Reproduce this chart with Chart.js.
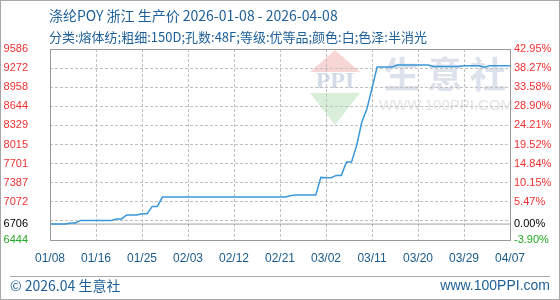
<!DOCTYPE html>
<html lang="zh">
  <head>
    <meta charset="UTF-8" />
    <title>涤纶POY 浙江 生产价</title>
    <script src="https://cdn.jsdelivr.net/npm/chart.js@4"></script>
    <style>
      body { margin: 0; background: #fff; }
      #wrap { position: relative; width: 560px; height: 300px; font-family: "Noto Sans CJK SC", "Liberation Sans", sans-serif; }
      #frame { position: absolute; left: 0; top: 0; width: 560px; height: 300px; box-sizing: border-box; border: 1px solid #a8a8a8; pointer-events: none; }
      .txt { position: absolute; color: #1d5f98; white-space: nowrap; line-height: 1; }
      #title { left: 49px; top: 8px; font-size: 14px; }
      #sub { left: 49px; top: 30px; font-size: 13px; }
      #sep { position: absolute; left: 10px; top: 276px; width: 540px; height: 1px; background: #aaa; }
      #copy { left: 10px; top: 278px; font-size: 14px; }
      #site { right: 10px; top: 278px; font-size: 14px; font-family: "Liberation Sans", sans-serif; }
    </style>
  </head>
  <body>
    <div id="wrap">
      <canvas id="myChart"></canvas>
      <div id="title" class="txt">涤纶POY 浙江 生产价 2026-01-08 - 2026-04-08</div>
      <div id="sub" class="txt">分类:熔体纺;粗细:150D;孔数:48F;等级:优等品;颜色:白;色泽:半消光</div>
      <div id="sep"></div>
      <div id="copy" class="txt">© 2026.04 生意社</div>
      <div id="site" class="txt">www.100PPI.com</div>
      <div id="frame"></div>
    </div>
    <script>
      // daily price, 2026-01-08 .. 2026-04-08 (day index = position)
      let prices = [
        6706, 6706, 6706, 6706, 6725, 6725,
        6766, 6766, 6766, 6766, 6766, 6766, 6766,
        6790, 6790, 6855, 6855, 6855, 6877, 6877, 6997, 6997,
        7151, 7151, 7151, 7151, 7151, 7151, 7151, 7151, 7151, 7151,
        7151, 7151, 7151, 7151, 7151, 7151, 7151, 7151, 7151, 7151,
        7151, 7151, 7151, 7151, 7151,
        7173, 7184, 7184, 7184, 7184, 7184,
        7474, 7469, 7469, 7507, 7507, 7727, 7727,
        8000, 8380, 8600, 8940,
        9290, 9290, 9290, 9290,
        9323, 9323, 9323, 9323, 9323, 9323, 9323,
        9300, 9300, 9300, 9300, 9300, 9300,
        9311, 9311, 9311, 9311, 9285,
        9311, 9311, 9311, 9311, 9311,
      ];
      let basePrice = prices[0];

      let xTickDays = [0, 9, 18, 27, 36, 45, 54, 63, 72, 81, 90];
      let xTickLabels = ["01/08", "01/16", "01/25", "02/03", "02/12", "02/21", "03/02", "03/11", "03/20", "03/29", "04/07"];

      let yTickValues = [6444, 6706, 6758.2, 7072.4, 7386.6, 7700.8, 8015, 8329.2, 8643.4, 8957.6, 9271.8, 9586];
      let yTickLabels = ["6444", "6706", "", "7072", "7387", "7701", "8015", "8329", "8644", "8958", "9272", "9586"];
      let pctTickLabels = ["-3.90%", "0.00%", "", "5.47%", "10.15%", "14.84%", "19.52%", "24.21%", "28.90%", "33.58%", "38.27%", "42.95%"];

      function tickColor(ctx) {
        let v = ctx.tick.value;
        if (v === basePrice) return "#000";
        if (v < basePrice) return "#22aa22";
        return "#f03030";
      }

      // no grid line on the frame edges or under the solid base line
      function yGridColor(ctx) {
        let i = ctx.index;
        if (ctx.tick.value === basePrice || i === 0 || i === yTickValues.length - 1) return "rgba(0,0,0,0)";
        return "#c0c0c0";
      }
      function xGridColor(ctx) {
        let i = ctx.index;
        if (i === 0 || i === xTickDays.length - 1) return "rgba(0,0,0,0)";
        return "#c0c0c0";
      }

      // watermark behind everything, plot frame on top
      let decor = {
        id: "decor",
        beforeDraw(chart) {
          let c = chart.ctx;
          c.save();
          c.fillStyle = "#f8d6d6";
          c.beginPath();
          c.moveTo(335, 50); c.lineTo(360, 72); c.lineTo(310, 72); c.closePath();
          c.fill();
          c.fillStyle = "#d9efd9";
          c.beginPath();
          c.moveTo(310, 93); c.lineTo(360, 93); c.lineTo(335, 125); c.closePath();
          c.fill();
          c.fillStyle = "#d3dae8";
          c.textAlign = "center";
          c.textBaseline = "middle";
          c.font = "bold 24px 'Liberation Serif', serif";
          c.fillText("PPI", 335, 82);
          c.font = "bold 36px 'Noto Sans CJK SC', sans-serif";
          c.fillStyle = "#dce1ec";
          ["生", "意", "社"].forEach((ch, i) => c.fillText(ch, 402 + i * 43, 74));
          c.font = "15px 'Liberation Sans', sans-serif";
          c.fillStyle = "#e4e4e4";
          c.fillText("WWW.100PPI.COM", 446, 106);
          c.restore();
        },
        afterDraw(chart) {
          let a = chart.chartArea;
          let c = chart.ctx;
          c.save();
          c.strokeStyle = "#9a9a9a";
          c.lineWidth = 1;
          c.strokeRect(Math.round(a.left) + 0.5, Math.round(a.top) + 0.5, Math.round(a.right - a.left), Math.round(a.bottom - a.top));
          c.restore();
        },
      };

      let config = {
        type: "line",
        data: {
          datasets: [
            {
              label: "生产价",
              data: prices.map((p, i) => ({ x: i, y: p })),
              borderColor: "#3a98d8",
              borderWidth: 1.5,
              pointRadius: 0,
              tension: 0,
              order: 0,
            },
            {
              label: "base",
              data: [{ x: 0, y: basePrice }, { x: prices.length - 1, y: basePrice }],
              borderColor: "#a0a0a0",
              borderWidth: 1,
              pointRadius: 0,
              order: 1,
            },
          ],
        },
        options: {
          responsive: true,
          maintainAspectRatio: false,
          animation: false,
          layout: { padding: { top: 49, left: 0, right: 0, bottom: 0 } },
          plugins: { legend: { display: false }, tooltip: { enabled: false } },
          scales: {
            x: {
              type: "linear",
              min: 0,
              max: prices.length - 1,
              afterBuildTicks: (s) => { s.ticks = xTickDays.map((v) => ({ value: v })); },
              afterFit: (s) => { s.height = 60; },
              grid: { drawTicks: false, lineWidth: 1, color: xGridColor },
              border: { display: false, dash: [3, 2] },
              ticks: {
                autoSkip: false,
                maxRotation: 0,
                padding: 11,
                color: "#1a5a8a",
                font: { size: 12, family: "'Liberation Sans', Arial, sans-serif" },
                callback: (v, i) => xTickLabels[i],
              },
            },
            y: {
              position: "left",
              min: 6444,
              max: 9586,
              afterBuildTicks: (s) => { s.ticks = yTickValues.map((v) => ({ value: v })); },
              afterFit: (s) => { s.width = 50; },
              grid: { drawTicks: false, lineWidth: 1, color: yGridColor },
              border: { display: false, dash: [3, 2] },
              ticks: {
                autoSkip: false,
                padding: 22,
                color: tickColor,
                font: { size: 11, family: "'Liberation Sans', Arial, sans-serif" },
                callback: (v, i) => yTickLabels[i],
              },
            },
            y2: {
              position: "right",
              display: true,
              min: 6444,
              max: 9586,
              afterBuildTicks: (s) => { s.ticks = yTickValues.map((v) => ({ value: v })); },
              afterFit: (s) => { s.width = 50; },
              grid: { display: false, drawTicks: false },
              border: { display: false },
              ticks: {
                autoSkip: false,
                padding: 4,
                color: tickColor,
                font: { size: 11, family: "'Liberation Sans', Arial, sans-serif" },
                callback: (v, i) => pctTickLabels[i],
              },
            },
          },
        },
        plugins: [decor],
      };

      let myChart = new Chart(document.getElementById("myChart"), config);
    </script>
  </body>
</html>
